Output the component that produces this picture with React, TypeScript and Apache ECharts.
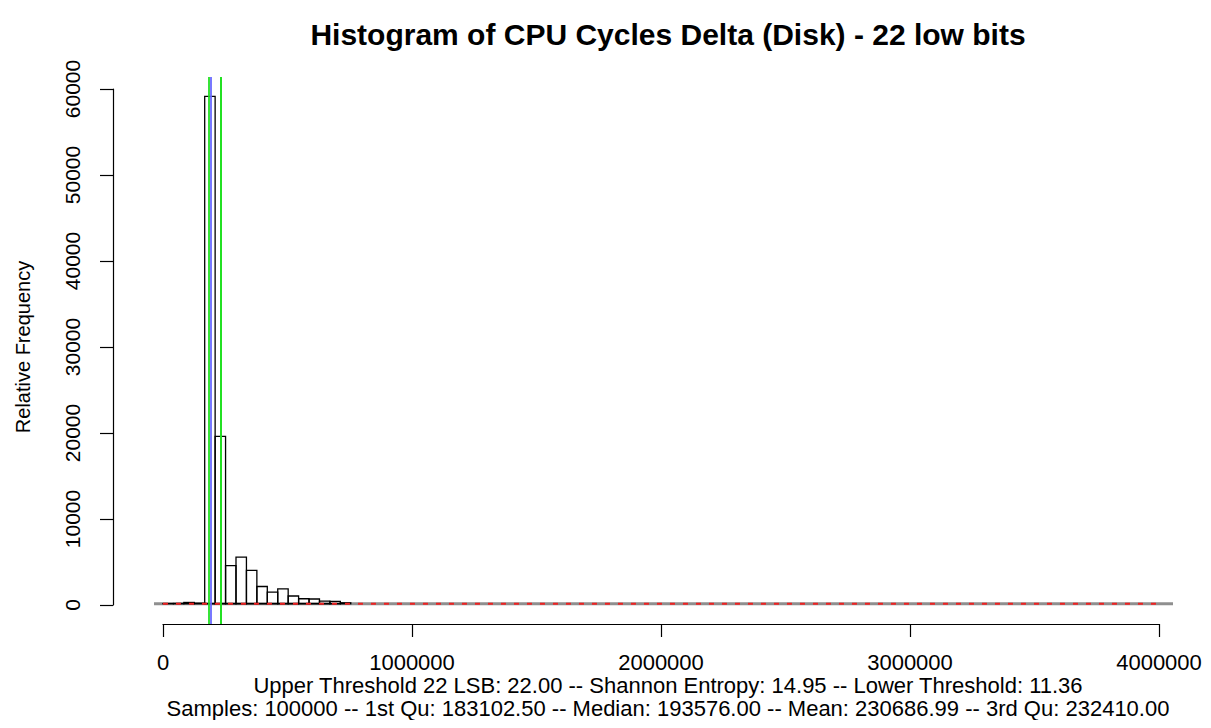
import React, { useEffect, useRef } from "react";
import * as echarts from "echarts";

// Histogram: bin width = 2^22 / 100
const BIN_WIDTH = 41943.04;
const BIN_COUNTS = [20, 30, 150, 60, 59100, 19500, 4450, 5430, 3880, 2010, 1360, 1740, 900, 580, 550, 310, 270, 110];

const X_TICKS = [0, 1000000, 2000000, 3000000, 4000000];
const Y_TICKS = [0, 10000, 20000, 30000, 40000, 50000, 60000];

const Q1 = 183102.5;
const MEDIAN = 193576.0;
const MEAN = 230686.99;
const Q3 = 232410.0;

const GRAY_LINE_X = [-36000, 4060000];
const RED_LINE_X = [0, 4010000];

const TITLE = "Histogram of CPU Cycles Delta (Disk) - 22 low bits";
const SUB1 = "Upper Threshold 22 LSB: 22.00 -- Shannon Entropy: 14.95 -- Lower Threshold: 11.36";
const SUB2 = "Samples: 100000 -- 1st Qu: 183102.50 -- Median: 193576.00 -- Mean: 230686.99 -- 3rd Qu: 232410.00";

const FONT = "Liberation Sans, Arial, Helvetica, sans-serif";

export default function App() {
  const ref = useRef<HTMLDivElement>(null);
  useEffect(() => {
    if (!ref.current) return;
    const chart = echarts.init(ref.current, null, { renderer: "svg" });
    const bins = BIN_COUNTS.map((c, i) => [i * BIN_WIDTH, (i + 1) * BIN_WIDTH, c]);
    const green = "#22e022";
    const blue = "#6a6aff";
    const axisStyle = { color: "#000", width: 1.2 };
    chart.setOption({
      animation: false,
      backgroundColor: "#ffffff",
      textStyle: { fontFamily: FONT },
      title: [
        {
          text: TITLE,
          left: 663,
          textAlign: "center",
          top: 14,
          textStyle: { fontFamily: FONT, fontSize: 30, lineHeight: 30, fontWeight: "bold", color: "#000" },
        },
        {
          text: SUB1,
          left: 663,
          textAlign: "center",
          top: 670,
          padding: [5, 5, 5, 5],
          textStyle: { fontFamily: FONT, fontSize: 22, lineHeight: 21, fontWeight: "normal", color: "#000" },
        },
        {
          text: SUB2,
          left: 663,
          textAlign: "center",
          top: 693,
          textStyle: { fontFamily: FONT, fontSize: 22, lineHeight: 21, fontWeight: "normal", color: "#000" },
        },
      ],
      grid: [
        // data region
        { left: 154, right: 38, top: 77, bottom: 104 },
        // x axis display (0 .. 4e6)
        { left: 163, right: 52, top: 77, bottom: 104 },
        // y axis display (0 .. 60000)
        { left: 113, width: 100, top: 89, bottom: 123 },
      ],
      xAxis: [
        { type: "value", gridIndex: 0, min: GRAY_LINE_X[0], max: GRAY_LINE_X[1], show: false },
        {
          type: "value",
          gridIndex: 1,
          min: X_TICKS[0],
          max: X_TICKS[X_TICKS.length - 1],
          interval: 1000000,
          splitLine: { show: false },
          axisLine: { show: true, lineStyle: axisStyle },
          axisTick: { show: true, length: 13, lineStyle: axisStyle },
          axisLabel: {
            show: true,
            margin: 28,
            fontSize: 22,
            lineHeight: 20,
            color: "#000",
            fontFamily: FONT,
            formatter: (v: number) => String(v),
          },
        },
        { type: "value", gridIndex: 2, min: 0, max: 1, show: false },
      ],
      yAxis: [
        { type: "value", gridIndex: 0, min: -2360, max: 61360, show: false },
        { type: "value", gridIndex: 1, min: 0, max: 1, show: false },
        {
          type: "value",
          gridIndex: 2,
          min: Y_TICKS[0],
          max: Y_TICKS[Y_TICKS.length - 1],
          interval: 10000,
          splitLine: { show: false },
          axisLine: { show: true, lineStyle: axisStyle },
          axisTick: { show: true, length: 13, lineStyle: axisStyle },
          axisLabel: {
            show: true,
            rotate: 90,
            margin: 30,
            fontSize: 21,
            color: "#000",
            fontFamily: FONT,
            formatter: (v: number) => String(v),
          },
          name: "Relative Frequency",
          nameLocation: "middle",
          nameGap: 80,
          nameRotate: 90,
          nameTextStyle: { fontSize: 20, color: "#000", fontFamily: FONT },
        },
      ],
      series: [
        {
          type: "line",
          xAxisIndex: 0,
          yAxisIndex: 0,
          data: GRAY_LINE_X.map((x) => [x, 0]),
          showSymbol: false,
          symbol: "none",
          clip: false,
          lineStyle: { color: "#8f8f8f", width: 3 },
          z: 1,
        },
        {
          type: "custom",
          xAxisIndex: 0,
          yAxisIndex: 0,
          clip: false,
          data: bins,
          z: 2,
          renderItem: (params: any, api: any) => {
            const p0 = api.coord([api.value(0), api.value(2)]);
            const p1 = api.coord([api.value(1), 0]);
            return {
              type: "rect",
              shape: { x: p0[0], y: p0[1], width: p1[0] - p0[0], height: p1[1] - p0[1] },
              style: { fill: "none", stroke: "#000", lineWidth: 1.3 },
            };
          },
        },
        {
          type: "line",
          xAxisIndex: 0,
          yAxisIndex: 0,
          data: RED_LINE_X.map((x) => [x, 0]),
          showSymbol: false,
          symbol: "none",
          clip: false,
          lineStyle: { color: "#ee2222", width: 2, type: [5, 8] },
          z: 3,
          markLine: {
            silent: true,
            symbol: "none",
            label: { show: false },
            animation: false,
            data: [
              { xAxis: Q1, lineStyle: { color: green, width: 1.8, type: "solid" } },
              { xAxis: MEAN, lineStyle: { color: green, width: 1.8, type: "solid" } },
              { xAxis: Q3, lineStyle: { color: green, width: 1.8, type: "solid" } },
              { xAxis: MEDIAN, lineStyle: { color: blue, width: 1.8, type: "solid" } },
            ],
          },
        },
      ],
    });
    return () => chart.dispose();
  }, []);
  return <div ref={ref} style={{ width: 1211, height: 728, margin: -8 }} />;
}
